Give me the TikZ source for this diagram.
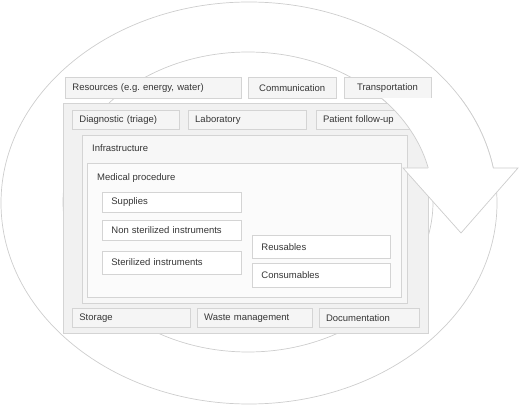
\documentclass[tikz,border=0pt]{standalone}
\usepackage{fontspec}
\setmainfont{Liberation Sans}
\usepackage{tikz}
\usetikzlibrary{positioning}
\definecolor{ringgray}{HTML}{CDCDCD}
\definecolor{boxline}{HTML}{D4D4D4}
\definecolor{mainfill}{HTML}{F1F1F1}
\definecolor{infrafill}{HTML}{F7F7F7}
\definecolor{medfill}{HTML}{FBFBFB}
\definecolor{itemfill}{HTML}{F5F5F5}
\definecolor{labeltext}{HTML}{363636}
\tikzstyle{ringline} = [draw=ringgray, line width=0.7pt]
\tikzstyle{panel} = [rectangle, anchor=north west, draw=boxline, line width=0.8pt, fill=mainfill, inner sep=0pt]
\tikzstyle{itembox} = [rectangle, anchor=north west, draw=boxline, line width=0.8pt, fill=itemfill, inner xsep=7pt, inner ysep=0pt, minimum height=20pt, align=left, text=labeltext, font=\fontsize{9.5}{11}\selectfont]
\tikzstyle{centerbox} = [itembox, align=center]
\tikzstyle{subitem} = [itembox, fill=white, inner xsep=9pt]
\tikzstyle{caption} = [anchor=west, inner sep=0pt, text=labeltext, font=\fontsize{9.5}{11}\selectfont]

\begin{document}
\begin{tikzpicture}[x=1pt, y=-1pt]
\useasboundingbox (0,0) rectangle (520,406);
% ring, back part
\draw[ringline] (249,203) ellipse [x radius=248pt, y radius=201pt];
\draw[ringline] (248,202) ellipse [x radius=185pt, y radius=150pt];
% top row
\node (resources) [itembox, text width=162pt, minimum height=21pt] at (65,77) {Resources (e.g.\ energy, water)};
\node (communication) [centerbox, text width=74pt, minimum height=21pt, right=6pt of resources] {Communication};
\node (transport) [centerbox, text width=73pt, minimum height=21pt, right=7pt of communication] {Transportation};
% main panel
\node (main) [panel, minimum width=365pt, minimum height=230pt] at (63,103) {};
\node (diagnostic) [itembox, text width=93pt, minimum height=19pt] at (72,110) {Diagnostic (triage)};
\node (laboratory) [itembox, text width=104pt, minimum height=19pt, right=8pt of diagnostic] {Laboratory};
\node (followup) [itembox, text width=82pt, minimum height=19pt, right=9pt of laboratory] {Patient follow-up};
\node (infra) [panel, fill=infrafill, minimum width=325pt, minimum height=168pt] at (82,135) {};
\node (infratext) [caption] at (92,148) {Infrastructure};
\node (medical) [panel, fill=medfill, minimum width=314pt, minimum height=134pt] at (87,163) {};
\node (medicaltext) [caption] at (97,178) {Medical procedure};
\node (supplies) [subitem, text width=121pt] at (102,192) {Supplies};
\node (nonsterile) [subitem, text width=121pt, below=7pt of supplies] {Non sterilized instruments};
\node (sterile) [subitem, text width=121pt, minimum height=23pt, below=10pt of nonsterile] {Sterilized instruments};
\node (reusables) [subitem, text width=120pt, minimum height=23pt] at (252,235) {Reusables};
\node (consumables) [subitem, text width=120pt, minimum height=24pt, below=4pt of reusables] {Consumables};
\node (storage) [itembox, text width=104pt, minimum height=19pt] at (72,308) {Storage};
\node (waste) [itembox, text width=101pt, minimum height=19pt, right=6pt of storage] {Waste management};
\node (documentation) [itembox, text width=86pt, minimum height=19pt, right=6pt of waste] {Documentation};
% ring, front part and head
\begin{scope}
\clip (330,98.5) rectangle (520,168);
\fill[white, even odd rule] (249,203) ellipse [x radius=248pt, y radius=201pt] (248,202) ellipse [x radius=185pt, y radius=150pt];
\draw[ringline] (249,203) ellipse [x radius=248pt, y radius=201pt];
\draw[ringline] (248,202) ellipse [x radius=185pt, y radius=150pt];
\end{scope}
\coordinate (headL) at (403,168);
\coordinate (headR) at (518,168);
\coordinate (tip) at (461,233);
\coordinate (innerT) at (428.2,168);
\coordinate (outerT) at (493.2,168);
\fill[white] (headL) -- (headR) -- (tip) -- cycle;
\draw[ringline] (innerT) -- (headL) -- (tip) -- (headR) -- (outerT);
\end{tikzpicture}
\end{document}
